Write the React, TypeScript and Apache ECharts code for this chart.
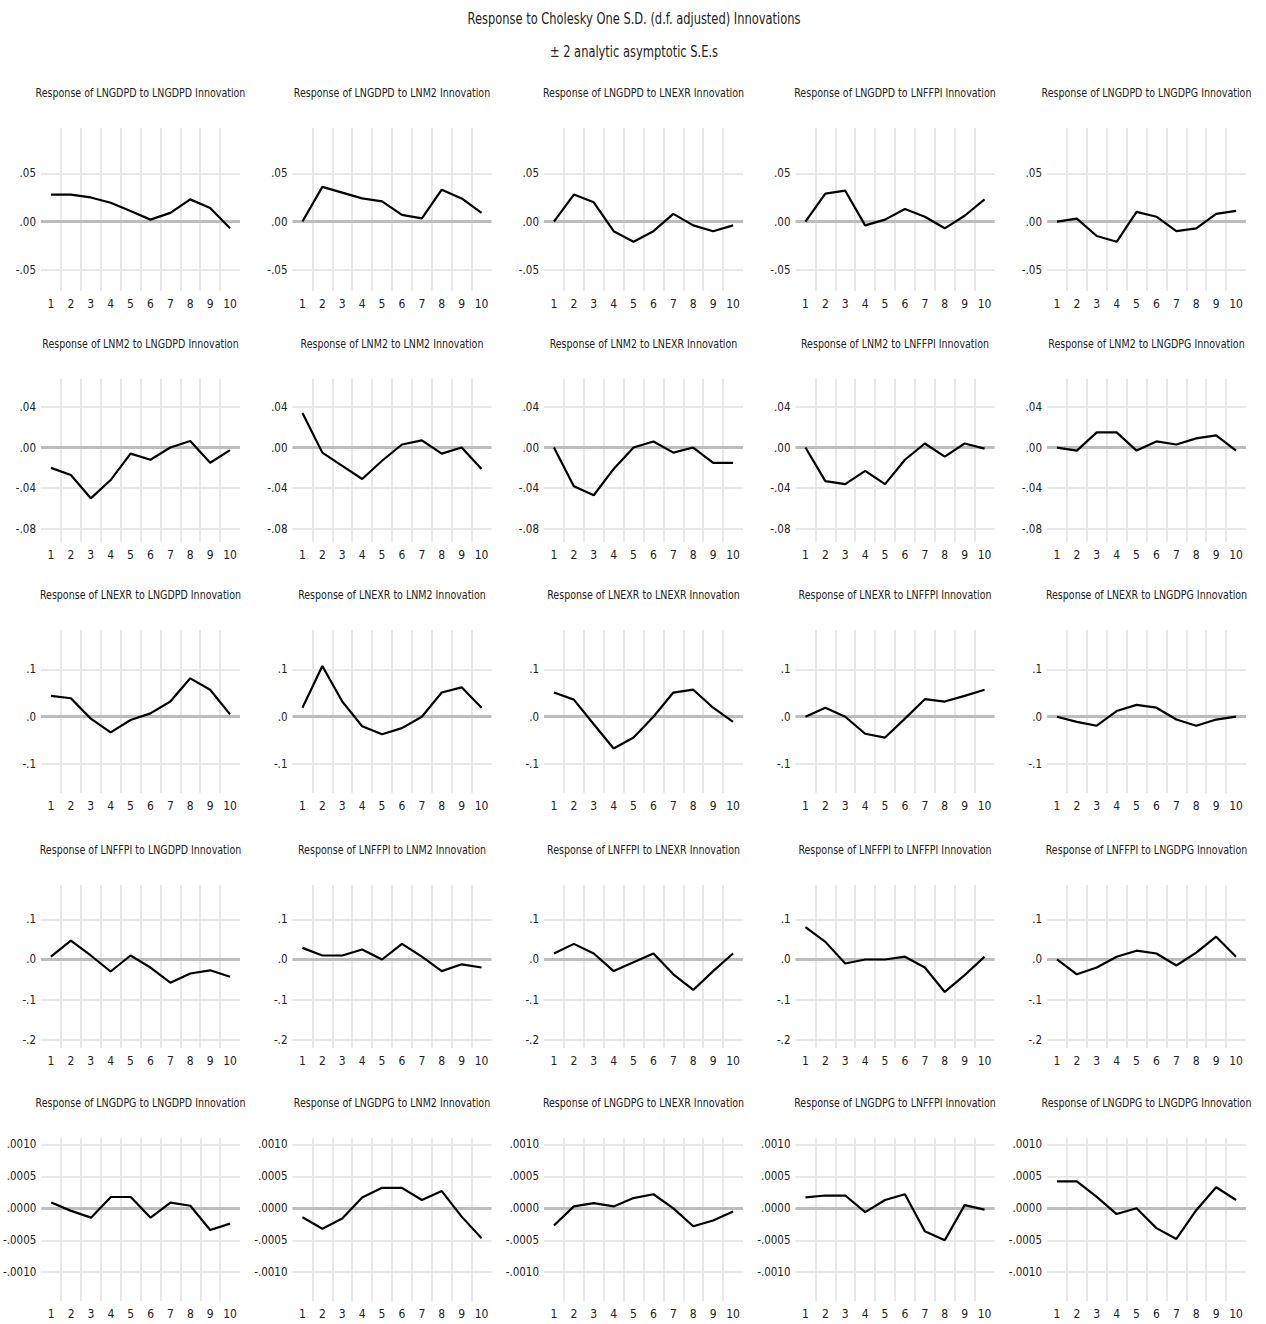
import React, { useEffect, useRef } from "react";
import * as echarts from "echarts";

const variables = ["LNGDPD", "LNM2", "LNEXR", "LNFFPI", "LNGDPG"];
const periods = ["1", "2", "3", "4", "5", "6", "7", "8", "9", "10"];

// Responses of LNGDPD
const gdpdToGdpd = [0.028, 0.028, 0.025, 0.0195, 0.011, 0.002, 0.009, 0.023, 0.014, -0.007];
const gdpdToM2 = [0.0, 0.036, 0.03, 0.024, 0.021, 0.007, 0.0033, 0.033, 0.024, 0.009];
const gdpdToExr = [0.0, 0.028, 0.02, -0.01, -0.021, -0.01, 0.008, -0.004, -0.01, -0.004];
const gdpdToFfpi = [0.0, 0.029, 0.032, -0.004, 0.002, 0.013, 0.005, -0.007, 0.006, 0.023];
const gdpdToGdpg = [0.0, 0.003, -0.015, -0.021, 0.01, 0.005, -0.01, -0.007, 0.008, 0.011];
// Responses of LNM2
const m2ToGdpd = [-0.02, -0.027, -0.05, -0.032, -0.006, -0.012, 0.0, 0.0065, -0.015, -0.0025];
const m2ToM2 = [0.034, -0.005, -0.018, -0.031, -0.013, 0.003, 0.007, -0.006, 0.0, -0.021];
const m2ToExr = [0.0, -0.038, -0.047, -0.021, 0.0, 0.006, -0.005, 0.0, -0.015, -0.015];
const m2ToFfpi = [0.0, -0.033, -0.036, -0.023, -0.036, -0.012, 0.004, -0.009, 0.004, -0.001];
const m2ToGdpg = [0.0, -0.003, 0.015, 0.015, -0.003, 0.006, 0.003, 0.009, 0.012, -0.003];
// Responses of LNEXR
const exrToGdpd = [0.044, 0.039, -0.004, -0.033, -0.007, 0.007, 0.032, 0.081, 0.057, 0.005];
const exrToM2 = [0.019, 0.107, 0.032, -0.02, -0.037, -0.024, 0.0, 0.051, 0.062, 0.019];
const exrToExr = [0.051, 0.036, -0.016, -0.067, -0.044, 0.0, 0.051, 0.057, 0.019, -0.011];
const exrToFfpi = [0.0, 0.019, 0.0, -0.036, -0.044, -0.004, 0.037, 0.032, 0.044, 0.057];
const exrToGdpg = [0.0, -0.011, -0.019, 0.012, 0.025, 0.019, -0.006, -0.019, -0.006, 0.0];
// Responses of LNFFPI
const ffpiToGdpd = [0.007, 0.047, 0.01, -0.03, 0.01, -0.02, -0.058, -0.035, -0.027, -0.043];
const ffpiToM2 = [0.029, 0.01, 0.01, 0.025, 0.0, 0.039, 0.007, -0.029, -0.012, -0.02];
const ffpiToExr = [0.015, 0.039, 0.015, -0.029, -0.007, 0.015, -0.037, -0.076, -0.029, 0.015];
const ffpiToFfpi = [0.081, 0.044, -0.01, 0.0, 0.0, 0.007, -0.02, -0.081, -0.039, 0.007];
const ffpiToGdpg = [0.0, -0.037, -0.02, 0.007, 0.022, 0.015, -0.015, 0.017, 0.057, 0.007];
// Responses of LNGDPG
const gdpgToGdpd = [0.00009, -0.00004, -0.000146, 0.000177, 0.000177, -0.000146, 0.000089, 0.00004, -0.00034, -0.00024];
const gdpgToM2 = [-0.00014, -0.00032, -0.00016, 0.00017, 0.00032, 0.00032, 0.00013, 0.00027, -0.00013, -0.00047];
const gdpgToExr = [-0.00027, 0.00003, 0.00008, 0.00003, 0.00016, 0.00022, 0.0, -0.00028, -0.00019, -0.00005];
const gdpgToFfpi = [0.00017, 0.0002, 0.0002, -0.00006, 0.00013, 0.00022, -0.00036, -0.0005, 0.00005, -0.00002];
const gdpgToGdpg = [0.00042, 0.00042, 0.00018, -0.00009, 0.0, -0.00031, -0.00048, -0.00003, 0.00033, 0.00013];

const responses = [
  [gdpdToGdpd, gdpdToM2, gdpdToExr, gdpdToFfpi, gdpdToGdpg],
  [m2ToGdpd, m2ToM2, m2ToExr, m2ToFfpi, m2ToGdpg],
  [exrToGdpd, exrToM2, exrToExr, exrToFfpi, exrToGdpg],
  [ffpiToGdpd, ffpiToM2, ffpiToExr, ffpiToFfpi, ffpiToGdpg],
  [gdpgToGdpd, gdpgToM2, gdpgToExr, gdpgToFfpi, gdpgToGdpg],
];

// y-axis tick values per row
const ticksRow1 = [-0.05, 0, 0.05];
const ticksRow2 = [-0.08, -0.04, 0, 0.04];
const ticksRow3 = [-0.1, 0, 0.1];
const ticksRow4 = [-0.2, -0.1, 0, 0.1];
const ticksRow5 = [-0.001, -0.0005, 0, 0.0005, 0.001];
const rowTicks = [ticksRow1, ticksRow2, ticksRow3, ticksRow4, ticksRow5];
const rowDecimals = [2, 2, 1, 1, 4];
const rowMin = [-0.072, -0.093, -0.161, -0.221, -0.00145];
const rowMax = [0.097, 0.0675, 0.183, 0.186, 0.0011];

const mainTitle = "Response to Cholesky One S.D. (d.f. adjusted) Innovations";
const subTitle = "\u00B1 2 analytic asymptotic S.E.s";

const FONT = "'Liberation Sans Narrow', 'DejaVu Sans Condensed', 'Liberation Sans', sans-serif";

const colLeft = (c: number) => 41 + 251.5 * c;
const rowTop = [128, 379, 630, 885, 1138];
const GRID_W = 199;
const GRID_H = 163;

function fmt(v: number, d: number) {
  const s = Math.abs(v) < 1e-12 ? (0).toFixed(d) : v.toFixed(d);
  return s.replace(/^(-?)0\./, "$1.");
}

export default function App() {
  const ref = useRef<HTMLDivElement>(null);
  useEffect(() => {
    if (!ref.current) return;
    const chart = echarts.init(ref.current, undefined, { renderer: "svg" });
    const grids: any[] = [];
    const xAxes: any[] = [];
    const yAxes: any[] = [];
    const series: any[] = [];
    const graphics: any[] = [
      {
        type: "text",
        x: 634,
        y: 19,
        scaleX: 0.85,
        style: { text: mainTitle, font: `15px ${FONT}`, fill: "#222", textAlign: "center", textVerticalAlign: "middle" },
      },
      {
        type: "text",
        x: 634,
        y: 52,
        scaleX: 0.85,
        style: { text: subTitle, font: `15px ${FONT}`, fill: "#222", textAlign: "center", textVerticalAlign: "middle" },
      },
    ];
    let idx = 0;
    for (let r = 0; r < 5; r++) {
      for (let c = 0; c < 5; c++) {
        grids.push({ left: colLeft(c), top: rowTop[r], width: GRID_W, height: GRID_H, containLabel: false });
        xAxes.push({
          type: "category",
          gridIndex: idx,
          data: periods,
          boundaryGap: true,
          axisLine: { show: false },
          axisTick: { show: false },
          axisLabel: { fontSize: 12, color: "#222", margin: 7, fontFamily: FONT, interval: 0 },
          splitLine: { show: true, showMinLine: false, showMaxLine: false, lineStyle: { color: "#e8e8e8", width: 2 } },
        });
        const d = rowDecimals[r];
        yAxes.push({
          type: "value",
          gridIndex: idx,
          min: rowMin[r],
          max: rowMax[r],
          axisLine: { show: false },
          axisTick: { show: false, customValues: rowTicks[r] },
          axisLabel: {
            customValues: rowTicks[r],
            fontSize: 11.5,
            color: "#222",
            margin: 5,
            fontFamily: FONT,
            formatter: (v: number) => fmt(v, d),
          },
          splitLine: { show: true, lineStyle: { color: "#e8e8e8", width: 2 } },
        });
        series.push({
          type: "line",
          xAxisIndex: idx,
          yAxisIndex: idx,
          data: responses[r][c],
          symbol: "none",
          lineStyle: { color: "#000", width: 2.2 },
          markLine: {
            silent: true,
            symbol: "none",
            label: { show: false },
            lineStyle: { color: "#bdbdbd", width: 3, type: "solid" },
            data: [{ yAxis: 0 }],
            z: 1,
          },
          z: 3,
        });
        graphics.push({
          type: "text",
          x: colLeft(c) + GRID_W / 2,
          y: rowTop[r] - 35,
          scaleX: 0.88,
          style: {
            text: `Response of ${variables[r]} to ${variables[c]} Innovation`,
            font: `12px ${FONT}`,
            fill: "#222",
            textAlign: "center",
            textVerticalAlign: "middle",
          },
        });
        idx++;
      }
    }
    chart.setOption({
      animation: false,
      backgroundColor: "#fff",
      grid: grids,
      xAxis: xAxes,
      yAxis: yAxes,
      series,
      graphic: graphics,
    });
    return () => chart.dispose();
  }, []);
  return <div ref={ref} style={{ position: "absolute", left: 0, top: 0, width: 1266, height: 1324 }} />;
}
